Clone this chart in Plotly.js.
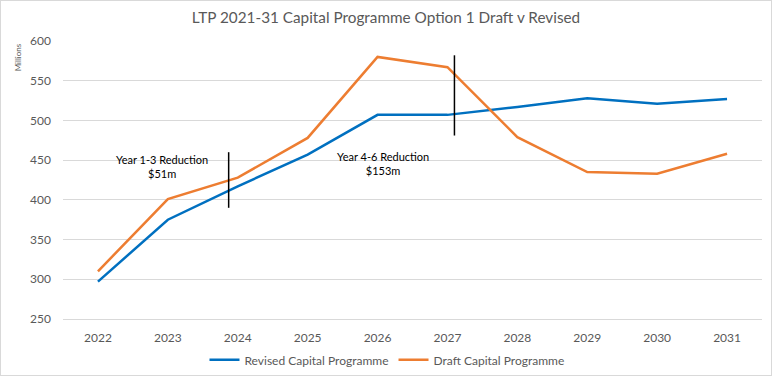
<!DOCTYPE html>
<html>
<head>
<meta charset="utf-8">
<script src="https://cdn.plot.ly/plotly-3.0.1.min.js"></script>
<style>
  html, body { margin: 0; padding: 0; background: #fff; }
  #chart { width: 770px; height: 374px; border: 1px solid #d9d9d9; }
</style>
</head>
<body>
<div id="chart"></div>
<script>
// ---- data ----
const years = [2022, 2023, 2024, 2025, 2026, 2027, 2028, 2029, 2030, 2031];
const yearLabels = ["2022", "2023", "2024", "2025", "2026", "2027", "2028", "2029", "2030", "2031"];
const revised = [297, 375, 417, 457, 507, 507, 517, 528, 521, 527];
const draft = [310, 401, 428, 478, 580, 567, 479, 435, 433, 458];
const yTicks = [250, 300, 350, 400, 450, 500, 550, 600];

// reduction markers (vertical lines) and their labels
const markerX = [2023.87, 2027.1];
const markerYLow = [390, 481];
const markerYHigh = [460, 582];
const noteX = [2022.91, 2026.08];
const noteY = [442, 446];
const noteText = ["Year 1-3 Reduction<br>$51m", "Year 4-6 Reduction<br>$153m"];

const FONT = "Lato, 'Open Sans', sans-serif";
const GREY = "#595959";

const traces = [
  { x: years, y: revised, name: "Revised Capital Programme", type: "scatter", mode: "lines",
    line: { color: "#0070C0", width: 2.5 } },
  { x: years, y: draft, name: "Draft Capital Programme", type: "scatter", mode: "lines",
    line: { color: "#ED7D31", width: 2.5 } }
];

const shapes = markerX.map((mx, i) => ({
  type: "line", xref: "x", yref: "y", x0: mx, x1: mx, y0: markerYLow[i], y1: markerYHigh[i],
  line: { color: "#000000", width: 1.5 }
}));

const annotations = noteX.map((nx, i) => ({
  x: nx, y: noteY[i], xref: "x", yref: "y", text: noteText[i], showarrow: false,
  font: { family: FONT, size: 11, color: "#000000" }, align: "center"
}));
annotations.push({
  text: "Millions", xref: "paper", yref: "paper", x: -0.064, y: 1.0, xanchor: "center", yanchor: "top",
  textangle: -90, showarrow: false, font: { family: FONT, size: 8, color: GREY }
});

const layout = {
  width: 770, height: 374,
  margin: { l: 62, r: 9, t: 40, b: 56, autoexpand: false },
  paper_bgcolor: "#ffffff", plot_bgcolor: "#ffffff",
  title: { text: "LTP 2021-31 Capital Programme Option 1 Draft v Revised",
           font: { family: FONT, size: 15.3, color: GREY }, x: 0.5, xanchor: "center",
           y: 0.955, yanchor: "middle", yref: "container" },
  xaxis: { range: [2021.5, 2031.5], tickvals: years, ticktext: yearLabels, showgrid: false,
           zeroline: false, showline: true, linecolor: "#d9d9d9", linewidth: 1,
           ticks: "", ticklabelstandoff: 8,
           tickfont: { family: FONT, size: 12, color: GREY }, fixedrange: true },
  yaxis: { range: [250, 600], tickvals: yTicks, showgrid: true, gridcolor: "#d9d9d9", gridwidth: 1,
           zeroline: false, showline: false, ticks: "", ticklabelstandoff: 11,
           tickfont: { family: FONT, size: 12, color: GREY }, fixedrange: true },
  showlegend: true,
  legend: { orientation: "h", x: 0.4635, xanchor: "center", y: -0.147, yanchor: "middle",
            font: { family: FONT, size: 12, color: GREY }, itemwidth: 30 },
  shapes: shapes,
  annotations: annotations
};

Plotly.newPlot("chart", traces, layout, { displayModeBar: false, staticPlot: true });
</script>
</body>
</html>
